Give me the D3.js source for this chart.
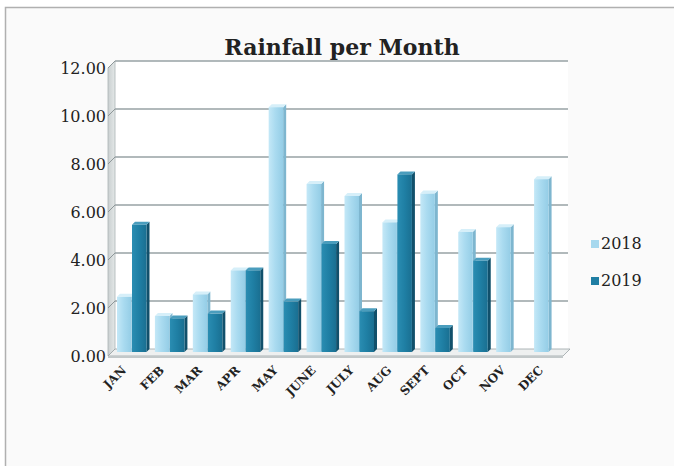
<!DOCTYPE html>
<html lang="en">
<head>
<meta charset="UTF-8">
<title>Rainfall per Month</title>
<script src="https://d3js.org/d3.v7.min.js"></script>
<style>
    body { margin: 0; background: #ffffff; overflow: hidden; }
    svg { display: block; }
</style>
</head>
<body>
<div id="chart"></div>
<script>
// Data
const months = ["JAN", "FEB", "MAR", "APR", "MAY", "JUNE", "JULY", "AUG", "SEPT", "OCT", "NOV", "DEC"];
const rain2018 = [2.3, 1.5, 2.4, 3.4, 10.2, 7.0, 6.5, 5.4, 6.6, 5.0, 5.2, 7.2];
const rain2019 = [5.3, 1.4, 1.6, 3.4, 2.1, 4.5, 1.7, 7.4, 1.0, 3.8, null, null];
const seriesNames = ["2018", "2019"];
const yTicks = [0, 2, 4, 6, 8, 10, 12];

const width = 674, height = 466;
const depthX = 7, depthY = 7;      // wall / floor depth
const barDepth = 3;                 // bar side thickness

const svg = d3.select("#chart").append("svg")
    .attr("width", width)
    .attr("height", height);

const defs = svg.append("defs");
function hGrad(id, stops) {
    const g = defs.append("linearGradient").attr("id", id)
        .attr("x1", "0%").attr("x2", "100%").attr("y1", "0%").attr("y2", "0%");
    stops.forEach(s => g.append("stop").attr("offset", s[0]).attr("stop-color", s[1]));
}
hGrad("front2018", [["0%", "#c4e8f7"], ["45%", "#aadbf0"], ["100%", "#94cde6"]]);
hGrad("front2019", [["0%", "#2a8db2"], ["50%", "#1f7fa4"], ["100%", "#1a6f91"]]);
hGrad("wallGrad", [["0%", "#c9cfd0"], ["100%", "#e4e8e8"]]);

// outer chart frame
svg.append("rect")
    .attr("x", 5.5).attr("y", 7.5)
    .attr("width", 700).attr("height", 480)
    .attr("fill", "#fafafa")
    .attr("stroke", "#b0b0b0")
    .attr("stroke-width", 1.5);

// scales
const x = d3.scaleBand().domain(months).range([115, 570]).paddingInner(0).paddingOuter(0);
const y = d3.scaleLinear().domain([0, 12]).range([349, 61]);

// back wall
svg.append("rect")
    .attr("x", x.range()[0]).attr("y", y(12))
    .attr("width", x.range()[1] - x.range()[0] - 2)
    .attr("height", y(0) - y(12))
    .attr("fill", "#ffffff");

// left side wall
svg.append("path")
    .attr("d", `M${x.range()[0] - depthX},${y(12) + depthY} L${x.range()[0]},${y(12)} L${x.range()[0]},${y(0)} L${x.range()[0] - depthX},${y(0) + depthY} Z`)
    .attr("fill", "url(#wallGrad)")
    .attr("stroke", "#aab2b4")
    .attr("stroke-width", 0.8);

// gridlines on back wall + short slant on side wall
const grid = svg.append("g");
yTicks.forEach(t => {
    if (t > 0) {
        grid.append("line")
            .attr("x1", x.range()[0]).attr("x2", x.range()[1] - 2)
            .attr("y1", y(t)).attr("y2", y(t))
            .attr("stroke", "#97a2a5").attr("stroke-width", 1.3);
    }
    grid.append("line")
        .attr("x1", x.range()[0] - depthX).attr("x2", x.range()[0])
        .attr("y1", y(t) + depthY).attr("y2", y(t))
        .attr("stroke", "#8e9799").attr("stroke-width", 1);
});

// floor
const fl = x.range()[0], fr = x.range()[1];
svg.append("path")
    .attr("d", `M${fl - depthX},${y(0) + depthY} L${fl},${y(0)} L${fr},${y(0)} L${fr - depthX},${y(0) + depthY} Z`)
    .attr("fill", "#eef0f0")
    .attr("stroke", "#9aa3a6")
    .attr("stroke-width", 0.8);
svg.append("rect")
    .attr("x", fl - depthX).attr("y", y(0) + depthY)
    .attr("width", fr - fl).attr("height", 2)
    .attr("fill", "#c2c8c9");

// y axis labels
svg.append("g").selectAll("text")
    .data(yTicks)
    .join("text")
    .attr("x", 106)
    .attr("y", d => y(d) + 13)
    .attr("text-anchor", "end")
    .attr("font-family", "'DejaVu Serif', serif")
    .attr("font-size", 16)
    .attr("fill", "#222")
    .text(d => d.toFixed(2));

// bars
const bw = 14.5;
const offsets = [2, 17];
const fronts = ["url(#front2018)", "url(#front2019)"];
const sides = ["#7eb6cf", "#11506b"];
const tops = ["#d6eff9", "#4a9dbd"];

const bars = [];
months.forEach((m, i) => {
    [rain2018[i], rain2019[i]].forEach((v, s) => {
        if (v == null) return;
        bars.push({ m, s, v });
    });
});

const barG = svg.append("g");
bars.forEach(d => {
    const x0 = x(d.m) + offsets[d.s];
    const yTop = y(d.v) + 3;
    const yBase = y(0) + 3;
    const g = barG.append("g");
    // side face
    g.append("path")
        .attr("d", `M${x0 + bw},${yTop} L${x0 + bw + barDepth},${yTop - barDepth} L${x0 + bw + barDepth},${yBase - barDepth} L${x0 + bw},${yBase} Z`)
        .attr("fill", sides[d.s]);
    // top face
    g.append("path")
        .attr("d", `M${x0},${yTop} L${x0 + barDepth},${yTop - barDepth} L${x0 + bw + barDepth},${yTop - barDepth} L${x0 + bw},${yTop} Z`)
        .attr("fill", tops[d.s]);
    // front face
    g.append("rect")
        .attr("x", x0).attr("y", yTop)
        .attr("width", bw).attr("height", yBase - yTop)
        .attr("fill", fronts[d.s]);
});

// title
svg.append("text")
    .attr("x", 342).attr("y", 55)
    .attr("text-anchor", "middle")
    .attr("font-family", "'DejaVu Serif', serif")
    .attr("font-weight", "bold")
    .attr("font-size", 22)
    .attr("fill", "#222")
    .text("Rainfall per Month");

// x labels, rotated 45 degrees, ending just under each category
const lx = d => x(d) + x.bandwidth() / 2 - 7;
const ly = 371;
svg.append("g").selectAll("text")
    .data(months)
    .join("text")
    .attr("x", d => lx(d))
    .attr("y", ly)
    .attr("transform", d => `rotate(-45, ${lx(d)}, ${ly})`)
    .attr("text-anchor", "end")
    .attr("font-family", "'DejaVu Serif', serif")
    .attr("font-weight", "bold")
    .attr("font-size", 12)
    .attr("fill", "#222")
    .text(d => d);

// legend
const legendColors = ["#a6d8ee", "#1f7ea3"];
const legend = svg.append("g");
seriesNames.forEach((name, i) => {
    const ey = 248 + i * 37;
    legend.append("rect")
        .attr("x", 591).attr("y", ey - 8)
        .attr("width", 8).attr("height", 8)
        .attr("fill", legendColors[i]);
    legend.append("text")
        .attr("x", 601).attr("y", ey + 1)
        .attr("font-family", "'DejaVu Serif', serif")
        .attr("font-size", 16)
        .attr("fill", "#222")
        .text(name);
});
</script>
</body>
</html>
